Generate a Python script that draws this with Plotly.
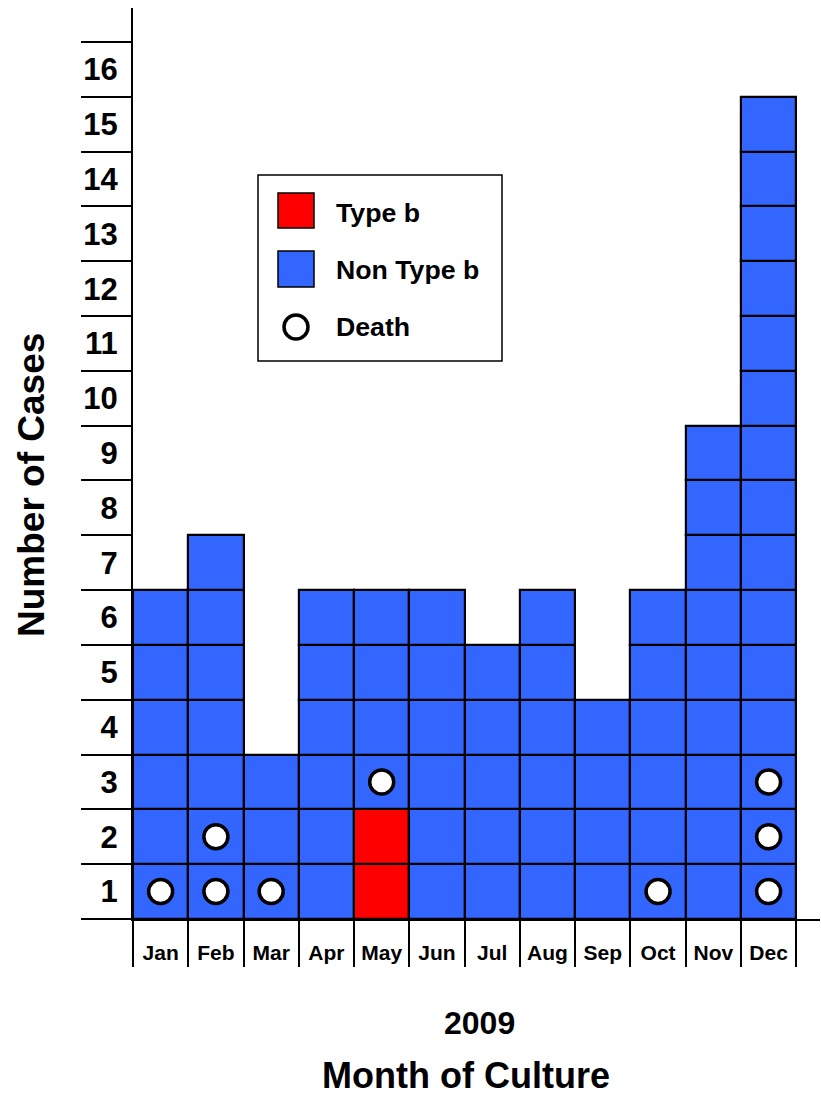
import plotly.graph_objects as go

# ---- data ----
months = ["Jan", "Feb", "Mar", "Apr", "May", "Jun", "Jul", "Aug", "Sep", "Oct", "Nov", "Dec"]
type_b = [0, 0, 0, 0, 2, 0, 0, 0, 0, 0, 0, 0]
non_type_b = [6, 7, 3, 6, 4, 6, 5, 6, 4, 6, 9, 15]
death_month = ["Jan", "Feb", "Feb", "Mar", "May", "Oct", "Dec", "Dec", "Dec"]
death_case = [1, 1, 2, 1, 3, 1, 1, 2, 3]
y_tick_labels = [str(k) for k in range(1, 17)]

RED = "#FF0000"
BLUE = "#3366FF"
FONT = "Liberation Sans, Arial, sans-serif"

# build one unit square per case (stacked from the bottom)
bx, bbase, bcol = [], [], []
for i, m in enumerate(months):
    level = 0
    for _ in range(type_b[i]):
        bx.append(i + 0.5); bbase.append(level); bcol.append(RED); level += 1
    for _ in range(non_type_b[i]):
        bx.append(i + 0.5); bbase.append(level); bcol.append(BLUE); level += 1

fig = go.Figure()
fig.add_trace(go.Bar(
    x=bx, y=[1] * len(bx), base=bbase, width=1,
    marker=dict(color=bcol, line=dict(color="black", width=2.2)),
    showlegend=False, hoverinfo="skip",
))
fig.add_trace(go.Scatter(
    x=[months.index(m) + 0.5 for m in death_month],
    y=[c - 0.5 for c in death_case],
    mode="markers",
    marker=dict(symbol="circle", size=24, color="white", line=dict(color="black", width=3.5)),
    showlegend=False, hoverinfo="skip",
))

fig.update_layout(
    width=821, height=1097, autosize=False,
    margin=dict(l=133, r=1, t=8, b=178),
    paper_bgcolor="white", plot_bgcolor="white",
    barmode="overlay", bargap=0,
    showlegend=False,
    font=dict(family=FONT, color="black"),
)

fig.update_xaxes(
    range=[0, 12.43], showgrid=False, zeroline=False,
    showline=True, linecolor="black", linewidth=2,
    tickmode="array", tickvals=[i + 0.5 for i in range(12)], ticktext=months,
    ticks="", tickfont=dict(size=21, family=FONT, color="black", weight="bold"),
    ticklabelstandoff=14,
    minor=dict(tickmode="array", tickvals=list(range(13)), ticks="outside",
               ticklen=46, tickwidth=2, tickcolor="black", showgrid=False),
)
fig.update_yaxes(
    range=[0, 16.62], showgrid=False, zeroline=False,
    showline=True, linecolor="black", linewidth=2,
    tickmode="array", tickvals=[k - 0.5 for k in range(1, 17)], ticktext=y_tick_labels,
    ticks="", tickfont=dict(size=31, family=FONT, color="black", weight="bold"),
    ticklabelstandoff=7,
    minor=dict(tickmode="array", tickvals=list(range(17)), ticks="outside",
               ticklen=50, tickwidth=2, tickcolor="black", showgrid=False),
)

def px(xp):
    return (xp - 133) / 687.0

def py(yp):
    return (919 - yp) / 911.0

anns = [
    dict(text="<b>Number of Cases</b>", x=px(32), y=py(485), textangle=-90,
         font=dict(size=37, family=FONT, color="black")),
    dict(text="<b>2009</b>", x=px(479), y=py(1023),
         font=dict(size=32, family=FONT, color="black")),
    dict(text="<b>Month of Culture</b>", x=px(466), y=py(1075),
         font=dict(size=36, family=FONT, color="black")),
]
for a in anns:
    a.update(xref="paper", yref="paper", showarrow=False, xanchor="center", yanchor="middle",
             borderpad=0)
    fig.add_annotation(**a)

# manual legend
shapes = [
    dict(type="rect", x0=px(258), x1=px(502), y0=py(361), y1=py(175),
         line=dict(color="black", width=1.5), fillcolor="white"),
    dict(type="rect", x0=px(278), x1=px(314), y0=py(228), y1=py(193),
         line=dict(color="black", width=1.5), fillcolor=RED),
    dict(type="rect", x0=px(278), x1=px(314), y0=py(287), y1=py(251),
         line=dict(color="black", width=1.5), fillcolor=BLUE),
    dict(type="circle", x0=px(284), x1=px(308), y0=py(339), y1=py(315),
         line=dict(color="black", width=3.5), fillcolor="white"),
]
for s in shapes:
    s.update(xref="paper", yref="paper", layer="above")
    fig.add_shape(**s)

for txt, yc in [("Type b", 213), ("Non Type b", 270), ("Death", 327)]:
    fig.add_annotation(text="<b>%s</b>" % txt, x=px(334), y=py(yc), xref="paper", yref="paper",
                       showarrow=False, xanchor="left", yanchor="middle",
                       font=dict(size=26.7, family=FONT, color="black"))

fig.write_html("out.html", config={"displayModeBar": False},
               post_script="document.body.style.margin='0px';document.body.style.overflow='hidden';")
